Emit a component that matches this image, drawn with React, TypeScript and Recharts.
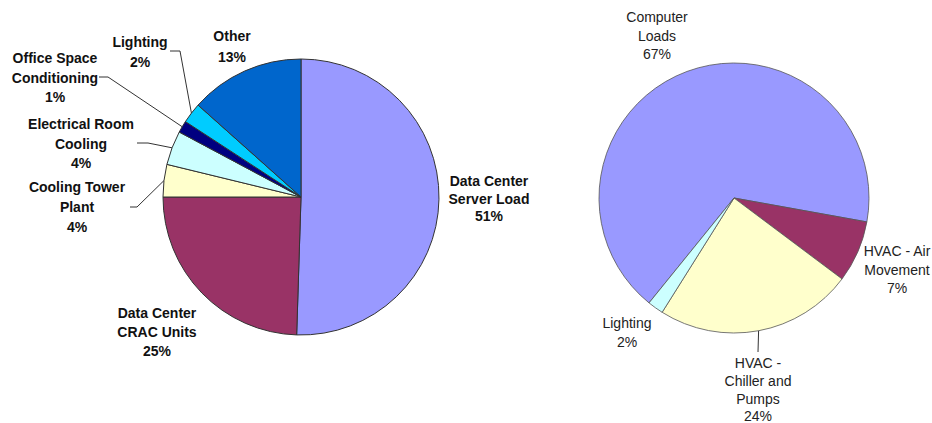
import React from 'react';
import { PieChart, Pie, Cell } from 'recharts';

// left pie: facility energy breakdown
const leftNames = [
  'Data Center\nServer Load',
  'Data Center\nCRAC Units',
  'Cooling Tower\nPlant',
  'Electrical Room\nCooling',
  'Office Space\nConditioning',
  'Lighting',
  'Other',
];
const leftValues = [50.5, 24.5, 3.8, 4.0, 1.4, 2.4, 13.4];
const leftColors = ['#9999FF', '#993366', '#FFFFCC', '#CCFFFF', '#000080', '#00CCFF', '#0066CC'];

// right pie: data center breakdown
const rightNames = ['Computer\nLoads', 'HVAC - Air\nMovement', 'HVAC -\nChiller and\nPumps', 'Lighting'];
const rightValues = [67, 7.4, 23.7, 1.9];
const rightColors = ['#9999FF', '#993366', '#FFFFCC', '#CCFFFF'];

const leftData = leftNames.map((name, i) => ({ name, value: leftValues[i] }));
const rightData = rightNames.map((name, i) => ({ name, value: rightValues[i] }));

type LabelPos = { x: number; y: number; gap?: number; leader?: number[][] };

// where each label block sits (cap-centre of the first line)
const leftLayout: LabelPos[] = [
  { x: 489, y: 181, gap: 17.5 },
  { x: 157, y: 313, gap: 19 },
  { x: 77, y: 187, gap: 20, leader: [[130, 207], [137, 207]] },
  { x: 81, y: 124, leader: [[137, 143], [148, 143]] },
  { x: 55, y: 58, leader: [[99, 77], [108, 77]] },
  { x: 140, y: 42, gap: 20, leader: [[170, 51], [180, 51]] },
  { x: 232, y: 36, gap: 21 },
];

const rightLayout: LabelPos[] = [
  { x: 657, y: 17 },
  { x: 897, y: 251 },
  { x: 758, y: 363, gap: 17.8, leader: [[758, 352]] },
  { x: 627, y: 323 },
];

const RAD = Math.PI / 180;

const makeLabel = (layout: LabelPos[], bold: boolean, defaultGap: number) => (props: any) => {
  const { cx, cy, midAngle, outerRadius, index, value, payload } = props;
  const pos = layout[index];
  const lines = [...String(payload.name).split('\n'), `${Math.round(value)}%`];
  const gap = pos.gap ?? defaultGap;
  const ex = cx + outerRadius * Math.cos(-midAngle * RAD);
  const ey = cy + outerRadius * Math.sin(-midAngle * RAD);
  return (
    <g>
      {pos.leader && (
        <polyline
          points={[...pos.leader, [ex, ey]].map((p) => p.join(',')).join(' ')}
          fill="none"
          stroke="#333"
          strokeWidth={1}
        />
      )}
      <text
        textAnchor="middle"
        fontFamily="Arial, 'Liberation Sans', sans-serif"
        fontSize={14}
        fontWeight={bold ? 'bold' : 'normal'}
        fill={bold ? '#111' : '#222'}
      >
        {lines.map((ln, i) => (
          <tspan key={i} x={pos.x} y={pos.y + i * gap + 5}>
            {ln}
          </tspan>
        ))}
      </text>
    </g>
  );
};

export default function App() {
  return (
    <div style={{ position: 'absolute', left: 0, top: 0, width: 932, height: 423, background: '#fff' }}>
      <PieChart width={932} height={423} margin={{ top: 0, right: 0, bottom: 0, left: 0 }}>
        <Pie
          data={leftData}
          dataKey="value"
          cx={301}
          cy={197}
          outerRadius={138}
          startAngle={90}
          endAngle={-270}
          stroke="#333"
          strokeWidth={1}
          label={makeLabel(leftLayout, true, 19.5)}
          labelLine={false}
          isAnimationActive={false}
        >
          {leftData.map((d, i) => (
            <Cell key={d.name} fill={leftColors[i]} />
          ))}
        </Pie>
        <Pie
          data={rightData}
          dataKey="value"
          cx={734}
          cy={198}
          outerRadius={135}
          startAngle={231}
          endAngle={-129}
          stroke="#555"
          strokeWidth={0.8}
          label={makeLabel(rightLayout, false, 18.5)}
          labelLine={false}
          isAnimationActive={false}
        >
          {rightData.map((d, i) => (
            <Cell key={d.name} fill={rightColors[i]} />
          ))}
        </Pie>
      </PieChart>
    </div>
  );
}
